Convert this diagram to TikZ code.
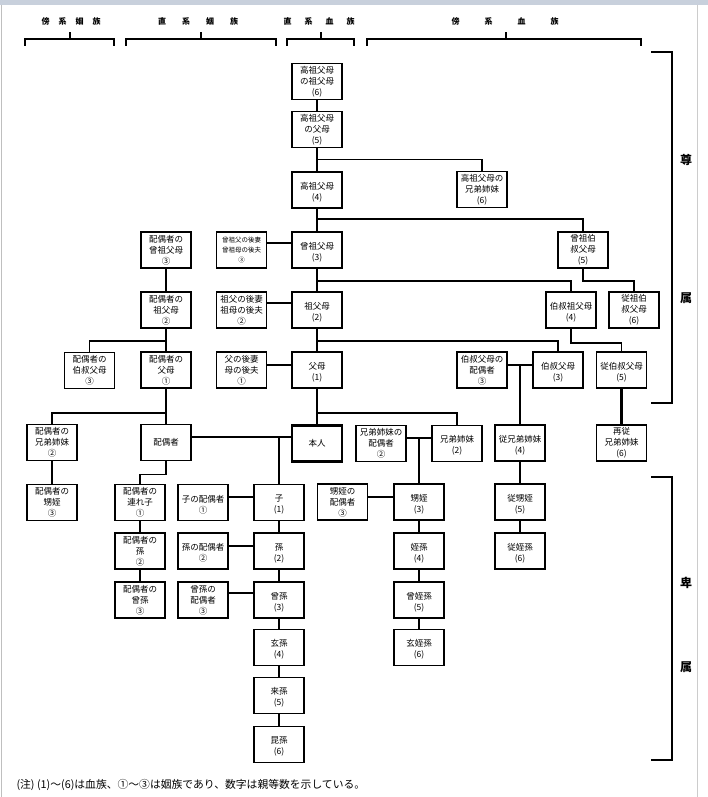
\documentclass[tikz,border=0pt]{standalone}
\usepackage{fontspec}
\setmainfont{Noto Sans CJK JP}
\usetikzlibrary{calc}
\newcommand{\sz}{\fontsize{6.5}{10}\selectfont}
\definecolor{band}{RGB}{200,208,220}

\begin{document}
\begin{tikzpicture}[x=1pt,y=-1pt,
  box/.style={draw,line width=1.5pt,minimum width=50pt,minimum height=36pt,inner sep=0pt,
    align=center,font=\fontsize{8.5}{11}\selectfont},
  ln/.style={line width=1.5pt},
  brk/.style={line width=1.8pt},
  head/.style={font=\bfseries\fontsize{8}{8}\selectfont},
  side/.style={font=\bfseries\fontsize{12}{12}\selectfont}]
   \useasboundingbox (0,0) rectangle (708,797);
   \fill[band] (0,0) rectangle (708,5);
   \draw[gray!50] (1.5,5) -- (1.5,797);
   \draw[gray!40] (697,5) -- (697,797);

   \node[head] (h1) at (71,21) {傍\hspace{9pt}系\hspace{9pt}姻\hspace{9pt}族};
   \node[head] (h2) at (198,21) {直\hspace{16pt}系\hspace{16pt}姻\hspace{16pt}族};
   \node[head] (h3) at (319,21) {直\hspace{13pt}系\hspace{13pt}血\hspace{13pt}族};
   \node[head] (h4) at (505,21) {傍\hspace{25pt}系\hspace{25pt}血\hspace{25pt}族};
   \draw[brk] (25,46) -- (25,39) -- (114,39) -- (114,46) (70,39) -- (70,32);
   \draw[brk] (126,46) -- (126,39) -- (276,39) -- (276,46) (201,39) -- (201,32);
   \draw[brk] (287,46) -- (287,39) -- (354,39) -- (354,46) (321,39) -- (321,32);
   \draw[brk] (367,46) -- (367,39) -- (641,39) -- (641,46) (506,39) -- (506,32);

   \draw[brk] (651,52) -- (672,52) -- (672,403) -- (651,403);
   \node[side] (t1) at (686,160) {尊};
   \node[side] (t2) at (686,298) {属};
   \draw[brk] (651,477) -- (672,477) -- (672,760) -- (651,760);
   \node[side] (b1) at (686,583) {卑};
   \node[side] (b2) at (686,667) {属};

   \node[box] (g6) at (317,81.5) {高祖父母\\の祖父母\\(6)};
   \node[box] (g5) at (317,129.5) {高祖父母\\の父母\\(5)};
   \node[box] (g4) at (317,190) {~\\高祖父母\\(4)};
   \node[box] (g4s) at (482,189.5) {高祖父母の\\兄弟姉妹\\(6)};
   \node[box] (g3) at (317,250) {~\\曾祖父母\\(3)};
   \node[box] (u5) at (583,250) {曾祖伯\\叔父母\\(5)};
   \node[box,font=\sz] (g3p) at (241.5,250) {曾祖父の後妻\\曾祖母の後夫\\③};
   \node[box] (sg3) at (166,250) {配偶者の\\曾祖父母\\③};
   \node[box] (g2) at (317,310) {~\\祖父母\\(2)};
   \node[box] (u4) at (571,310) {~\\伯叔祖父母\\(4)};
   \node[box] (cu6) at (634,310) {従祖伯\\叔父母\\(6)};
   \node[box] (g2p) at (241.5,310) {祖父の後妻\\祖母の後夫\\②};
   \node[box] (sg2) at (166,310) {配偶者の\\祖父母\\②};
   \node[box] (g1) at (317,370) {~\\父母\\(1)};
   \node[box] (u3) at (558,370) {~\\伯叔父母\\(3)};
   \node[box] (u3s) at (482,370) {伯叔父母の\\配偶者\\③};
   \node[box] (cu5) at (621.5,370) {~\\従伯叔父母\\(5)};
   \node[box] (g1p) at (241.5,370) {父の後妻\\母の後夫\\①};
   \node[box] (sg1) at (166,370) {配偶者の\\父母\\①};
   \node[box] (su3) at (89.5,370.5) {配偶者の\\伯叔父母\\③};
   \node[box,line width=2.6pt] (self) at (317,443.5) {本人};
   \node[box] (sib) at (457,443.5) {~\\兄弟姉妹\\(2)};
   \node[box] (sibs) at (381,443.5) {兄弟姉妹の\\配偶者\\②};
   \node[box] (cz4) at (520,443) {~\\従兄弟姉妹\\(4)};
   \node[box] (cz6) at (621.5,443) {再従\\兄弟姉妹\\(6)};
   \node[box] (sp) at (166,442.5) {配偶者};
   \node[box] (ssib) at (52,442.5) {配偶者の\\兄弟姉妹\\②};
   \node[box] (snn) at (52,502.5) {配偶者の\\甥姪\\③};
   \node[box] (sch) at (140,502.5) {配偶者の\\連れ子\\①};
   \node[box] (chs) at (203,502.5) {~\\子の配偶者\\①};
   \node[box] (ch) at (279,502.5) {~\\子\\(1)};
   \node[box] (nns) at (342.5,502) {甥姪の\\配偶者\\③};
   \node[box] (nn) at (419,502) {~\\甥姪\\(3)};
   \node[box] (cnn) at (520,502) {~\\従甥姪\\(5)};
   \node[box] (sgc) at (140,551) {配偶者の\\孫\\②};
   \node[box] (gcs) at (203,551) {~\\孫の配偶者\\②};
   \node[box] (gc) at (279,551) {~\\孫\\(2)};
   \node[box] (gnn) at (419,551) {~\\姪孫\\(4)};
   \node[box] (cgnn) at (520,551) {~\\従姪孫\\(6)};
   \node[box] (sggc) at (140,600) {配偶者の\\曾孫\\③};
   \node[box] (ggcs) at (203,600) {曾孫の\\配偶者\\③};
   \node[box] (ggc) at (279,600) {~\\曾孫\\(3)};
   \node[box] (ggnn) at (419,600) {~\\曾姪孫\\(5)};
   \node[box] (c4) at (279,647.5) {~\\玄孫\\(4)};
   \node[box] (gggnn) at (419,647.5) {~\\玄姪孫\\(6)};
   \node[box] (c5) at (279,695.5) {~\\来孫\\(5)};
   \node[box] (c6) at (279,744.5) {~\\昆孫\\(6)};

   \draw[ln] (g6) -- (g5);
   \draw[ln] (g5) -- (g4);
   \draw[ln] (g5.south) -- ++(0,11) -| (g4s.north);
   \draw[ln] (g4) -- (g3);
   \draw[ln] (g4.south) -- ++(0,10) -| (u5.north);
   \draw[ln] ([yshift=7pt]g3p.east) -- ([yshift=7pt]g3.west);
   \draw[ln] (g3) -- (g2);
   \draw[ln] (g3.south) -- ++(0,12) -| (u4.north);
   \draw[ln] (u5.south) -- ++(0,12) -| (cu6.north);
   \draw[ln] ([yshift=7pt]g2p.east) -- ([yshift=7pt]g2.west);
   \draw[ln] (g2) -- (g1);
   \draw[ln] (g2.south) -- ++(0,12) -| (u3.north);
   \draw[ln] (u4.south) -- ++(0,14) -| (cu5.north);
   \draw[ln] ([yshift=5pt]g1p.east) -- ([yshift=5pt]g1.west);
   \draw[ln] ([yshift=5pt]u3s.east) -- coordinate (m3) ([yshift=5pt]u3.west);
   \draw[ln] (m3) -- (m3 |- cz4.north);
   \draw[line width=2.4pt] (cu5) -- (cz6);
   \draw[ln] (g1) -- (self);
   \draw[ln] (g1.south) -- ++(0,24) -| (sib.north);
   \draw[ln] ([yshift=5.5pt]sibs.east) -- coordinate (m2) ([yshift=5.5pt]sib.west);
   \draw[ln] (m2) -- (m2 |- nn.north);
   \draw[ln] (sg3) -- (sg2);
   \draw[ln] (sg2) -- (sg1);
   \draw[ln] (sg2.south) -- ++(0,12) -| (su3.north);
   \draw[ln] (sg1) -- (sp);
   \draw[ln] (sg1.south) -- ++(0,24) -| (ssib.north);
   \draw[ln] ([yshift=5.5pt]sp.east) coordinate (m1) -- (m1 -| self.west);
   \draw[ln] (m1 -| ch.north) -- (ch.north);
   \draw[ln] (sp.south) -- ++(0,13) -| (sch.north);
   \draw[ln] (ssib) -- (snn);
   \draw[ln] ([yshift=5.5pt]chs.east) -- ([yshift=5.5pt]ch.west);
   \draw[ln] (ch) -- (gc);
   \draw[ln] (gc) -- (ggc);
   \draw[ln] (ggc) -- (c4);
   \draw[ln] (c4) -- (c5);
   \draw[ln] (c5) -- (c6);
   \draw[ln] (sch) -- (sgc);
   \draw[ln] (sgc) -- (sggc);
   \draw[ln] ([yshift=5pt]gcs.east) -- ([yshift=5pt]gc.west);
   \draw[ln] ([yshift=7pt]ggcs.east) -- ([yshift=7pt]ggc.west);
   \draw[ln] ([yshift=5pt]nns.east) -- ([yshift=5pt]nn.west);
   \draw[ln] (nn) -- (gnn);
   \draw[ln] (gnn) -- (ggnn);
   \draw[ln] (ggnn) -- (gggnn);
   \draw[ln] (cz4) -- (cnn);
   \draw[ln] (cnn) -- (cgnn);

   \node[anchor=west,font=\fontsize{10.8}{11}\selectfont] (note) at (13,785)
     {(注) (1)〜(6)は血族、①〜③は姻族であり、数字は親等数を示している。};
\end{tikzpicture}
\end{document}
